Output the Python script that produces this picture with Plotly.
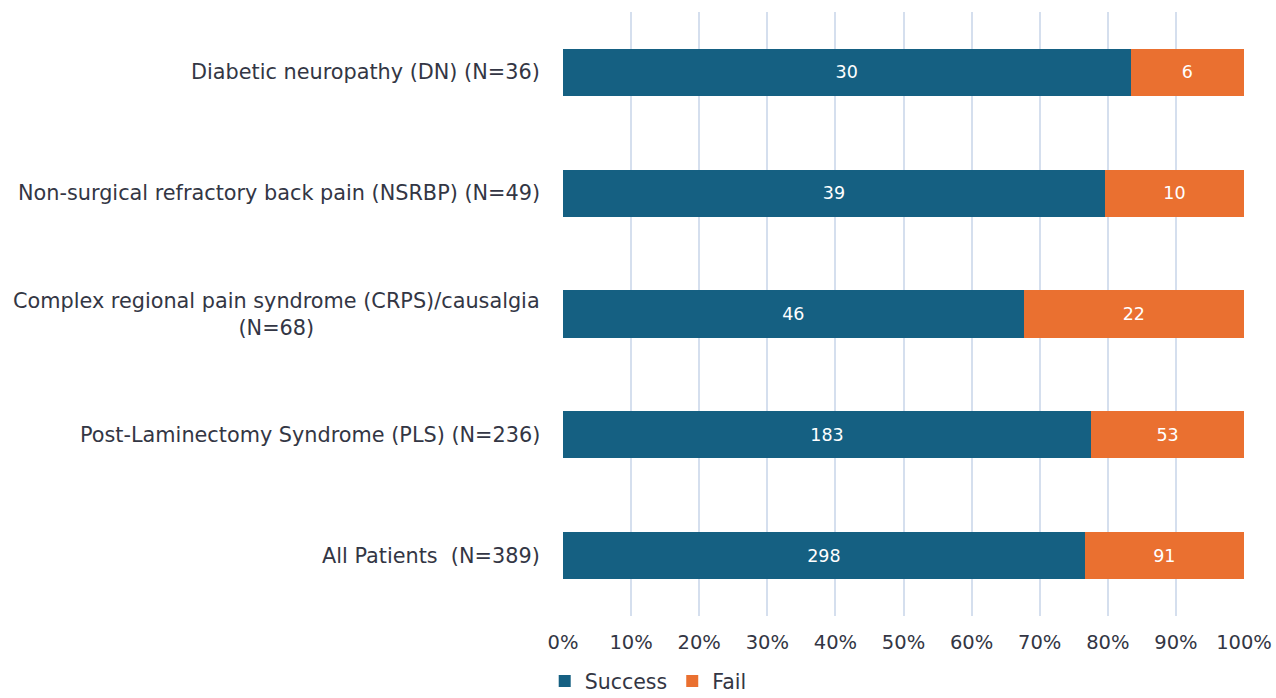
import plotly.graph_objects as go

# Outcomes per patient group (counts)
categories = [
    "Diabetic neuropathy (DN) (N=36)",
    "Non-surgical refractory back pain (NSRBP) (N=49)",
    "Complex regional pain syndrome (CRPS)/causalgia<br>(N=68)",
    "Post-Laminectomy Syndrome (PLS) (N=236)",
    "All Patients  (N=389)",
]
success = [30, 39, 46, 183, 298]
fail = [6, 10, 22, 53, 91]

x_ticks = list(range(0, 101, 10))
x_tick_labels = [f"{t}%" for t in x_ticks]

FONT = "'DejaVu Sans', sans-serif"
TEXT_COLOR = "#333644"
BLUE = "#156082"
ORANGE = "#EA7030"

fig = go.Figure()
fig.add_trace(go.Bar(
    y=categories, x=success, name="Success", orientation="h",
    marker=dict(color=BLUE, line=dict(width=0)),
    text=success, texttemplate="%{text}", textposition="inside",
    insidetextanchor="middle",
    textfont=dict(color="white", size=17.5, family=FONT),
))
fig.add_trace(go.Bar(
    y=categories, x=fail, name="Fail", orientation="h",
    marker=dict(color=ORANGE, line=dict(width=0)),
    text=fail, texttemplate="%{text}", textposition="inside",
    insidetextanchor="middle",
    textfont=dict(color="white", size=17.5, family=FONT),
))

# Category labels drawn as centred, right-anchored annotations
for cat in categories:
    fig.add_annotation(
        x=0, xref="paper", y=cat, yref="y",
        text=cat, showarrow=False, xanchor="right", yanchor="middle",
        xshift=-21, align="center",
        font=dict(size=20.8, color=TEXT_COLOR, family=FONT),
    )

fig.update_layout(
    width=1276, height=698,
    barmode="stack", barnorm="percent", bargap=0.61,
    plot_bgcolor="white", paper_bgcolor="white",
    margin=dict(l=563, r=32, t=12, b=82, autoexpand=False),
    font=dict(family=FONT, color=TEXT_COLOR, size=19.5),
    legend=dict(
        orientation="h", xref="container", yref="paper",
        x=0.508, xanchor="center", y=-0.108, yanchor="middle",
        font=dict(size=20.5, color=TEXT_COLOR, family=FONT),
        traceorder="normal", itemwidth=30,
    ),
    showlegend=True,
)
fig.update_xaxes(
    range=[0, 100], tickvals=x_ticks, ticktext=x_tick_labels,
    showgrid=True, gridcolor="#d5dfee", gridwidth=1.5,
    zeroline=False, showline=False, ticks="", automargin=False,
    ticklabelstandoff=12,
    tickfont=dict(size=19.5, color=TEXT_COLOR, family=FONT),
)
fig.update_yaxes(
    categoryorder="array", categoryarray=categories, autorange="reversed",
    showticklabels=False, showgrid=False, zeroline=False, showline=False,
    automargin=False,
)

fig.write_html("out.html")
